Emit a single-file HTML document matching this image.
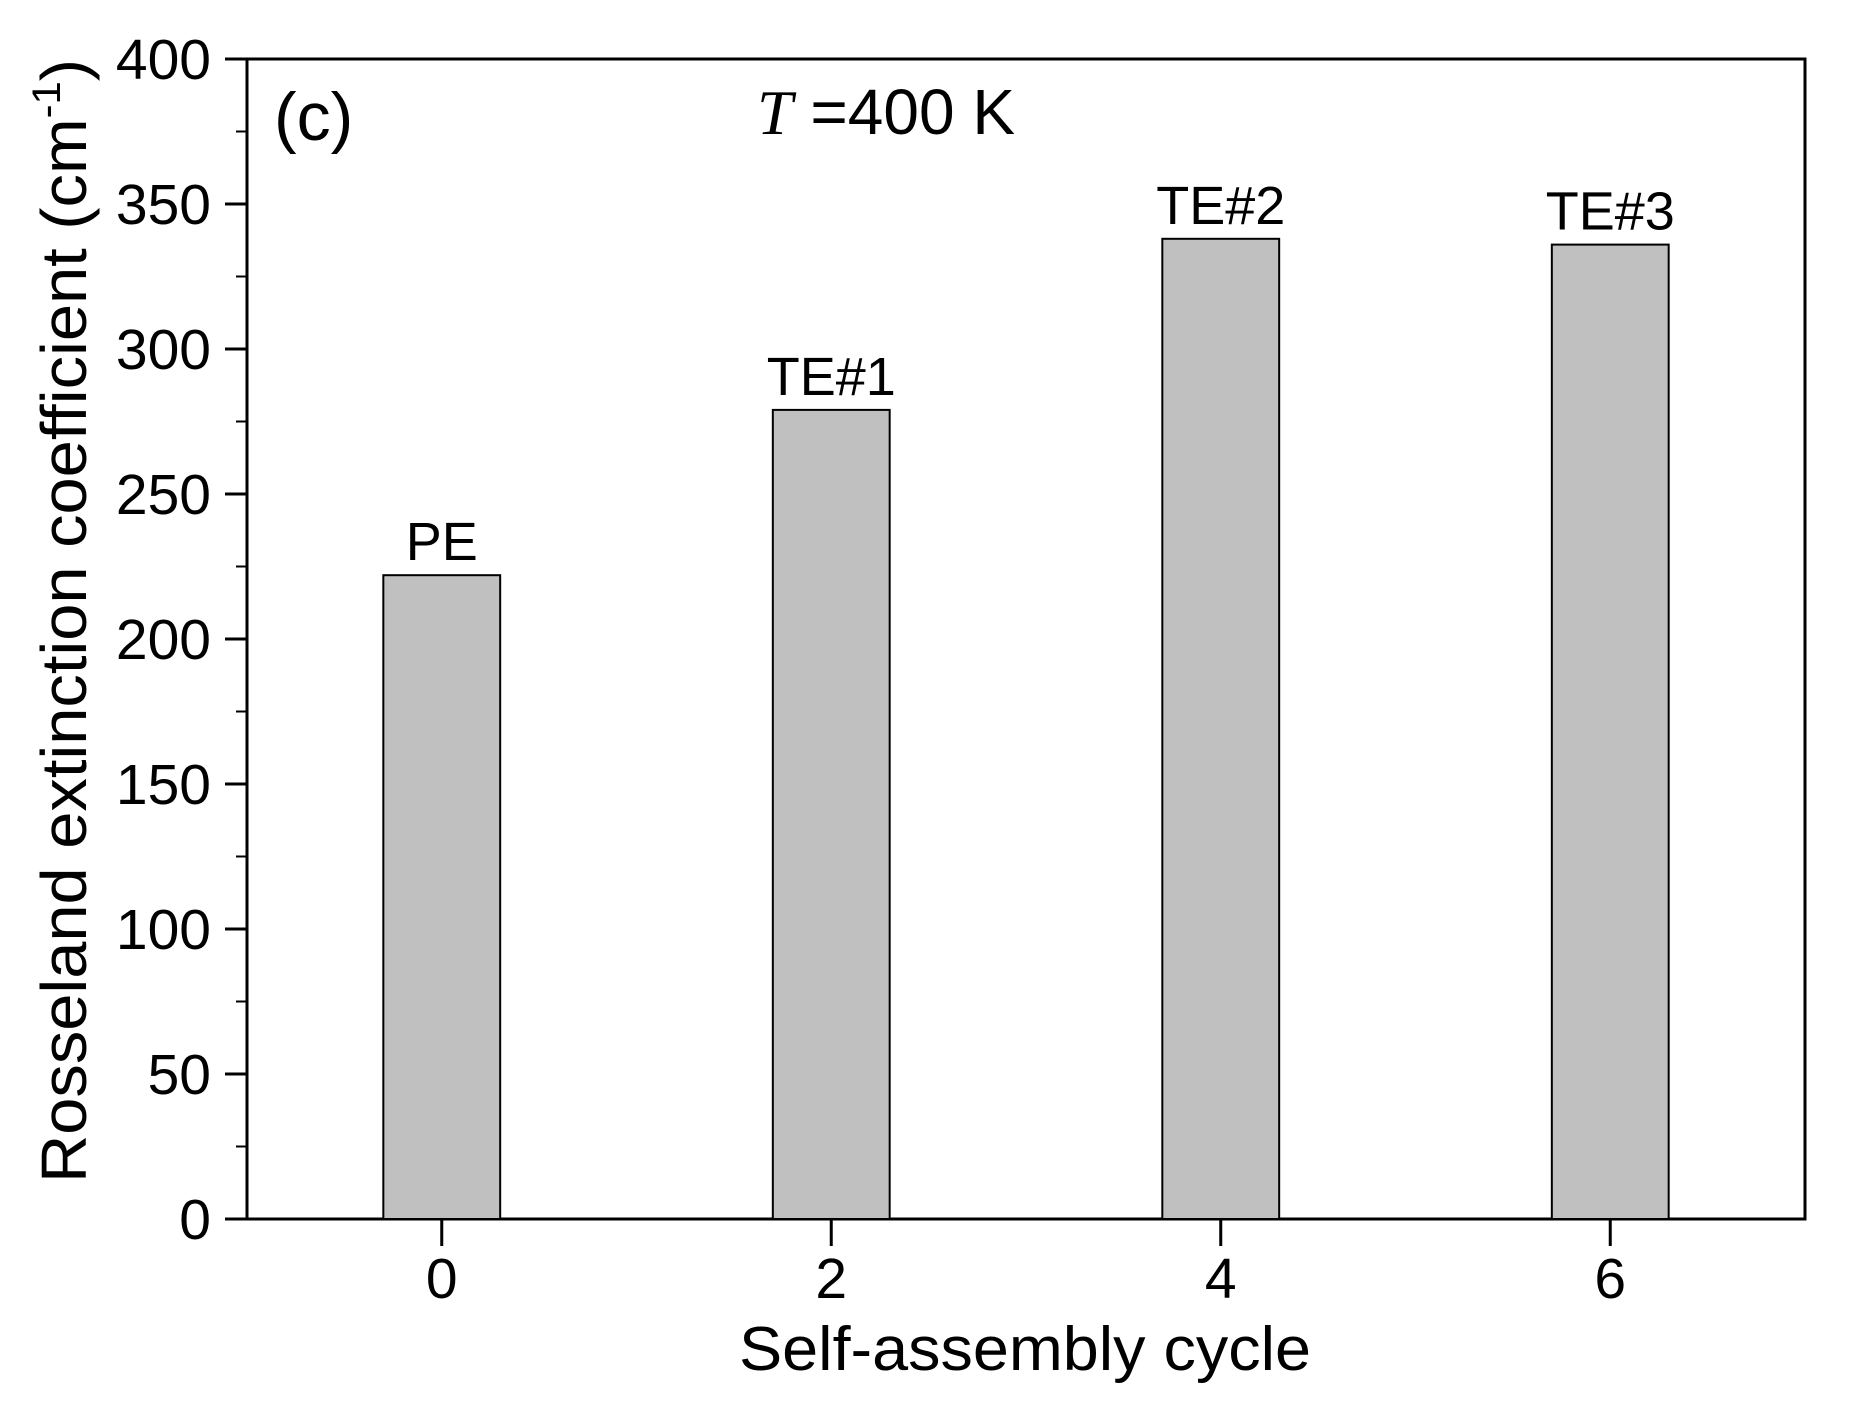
<!DOCTYPE html>
<html><head><meta charset="utf-8"><style>
body{margin:0;background:#fff}
svg{display:block;font-family:"Liberation Sans",Arial,sans-serif}
</style></head><body>
<svg id="chart" width="1855" height="1424" viewBox="0 0 1855 1424">
<g id="axes"></g>
<g id="bars"></g>
<text x="274" y="140" font-size="68">(c)</text>
<text x="757" y="134" font-size="64"><tspan font-family="Liberation Serif" font-style="italic">T</tspan> =400 K</text>
<text x="1025" y="1370" font-size="62" text-anchor="middle" textLength="572" lengthAdjust="spacingAndGlyphs">Self-assembly cycle</text>
<text transform="translate(86,621) rotate(-90)" font-size="64" text-anchor="middle" textLength="1124" lengthAdjust="spacingAndGlyphs">Rosseland extinction coefficient (cm<tspan dy="-26" font-size="40">-1</tspan><tspan dy="26">)</tspan></text>
</svg>
<script>
const categories=[0,2,4,6];
const values=[222,279,338,336];
const barLabels=["PE","TE#1","TE#2","TE#3"];
const yTicks=[0,50,100,150,200,250,300,350,400];
const xTicks=[0,2,4,6];
const L=247,R=1805,T=59,B=1219,xmin=-1,xmax=7,ymin=0,ymax=400,bw=0.6;
const NS="http://www.w3.org/2000/svg";
function X(v){return L+(v-xmin)/(xmax-xmin)*(R-L);}
function Y(v){return B-(v-ymin)/(ymax-ymin)*(B-T);}
function mk(tag,attrs,parent){const e=document.createElementNS(NS,tag);for(const k in attrs)e.setAttribute(k,attrs[k]);parent.appendChild(e);return e;}
const axes=document.getElementById('axes'),bars=document.getElementById('bars');
categories.forEach((c,i)=>{
  const r=mk('rect',{x:X(c-bw/2),y:Y(values[i]),width:X(c+bw/2)-X(c-bw/2),height:Y(0)-Y(values[i]),fill:'#c0c0c0',stroke:'#000','stroke-width':2},bars);
  
  
  const t=mk('text',{x:X(c),y:Y(values[i])-15,'font-size':54,'text-anchor':'middle'},bars);
  t.textContent=barLabels[i];
  
  
});
const frame=mk('rect',{x:L,y:T,width:R-L,height:B-T,fill:'none',stroke:'#000','stroke-width':3},axes);


yTicks.forEach((v,i)=>{
  const l=mk('line',{x1:L-22,x2:L,y1:Y(v),y2:Y(v),stroke:'#000','stroke-width':3},axes);
  
  
  if(i<yTicks.length-1){
    const m=mk('line',{x1:L-11,x2:L,y1:Y(v+25),y2:Y(v+25),stroke:'#000','stroke-width':2},axes);
    
    
  }
  const t=mk('text',{x:L-36,y:Y(v)+20,'font-size':57,'text-anchor':'end'},axes);
  t.textContent=v;
  
  
});
xTicks.forEach(v=>{
  const l=mk('line',{x1:X(v),x2:X(v),y1:B,y2:B+27,stroke:'#000','stroke-width':3},axes);
  
  
  const t=mk('text',{x:X(v),y:1298,'font-size':57,'text-anchor':'middle'},axes);
  t.textContent=v;
  
  
});
</script>
</body></html>
